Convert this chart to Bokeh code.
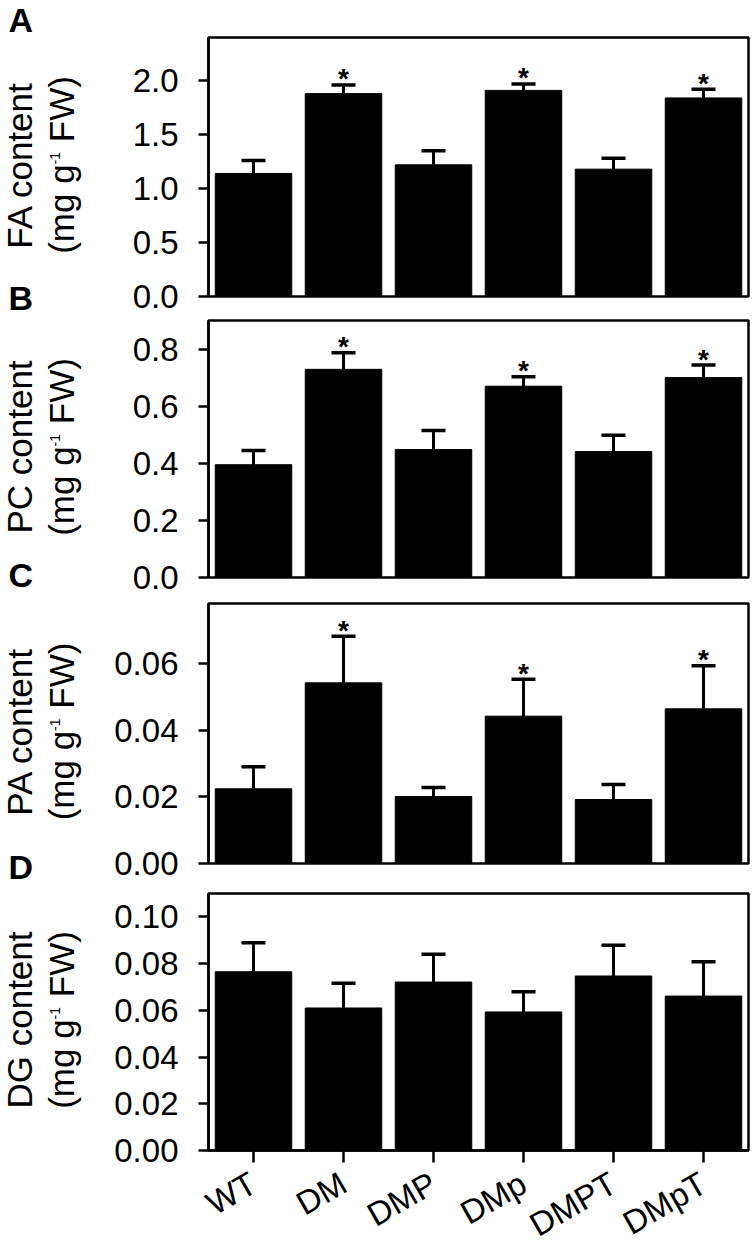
import math
from bokeh.plotting import figure
from bokeh.models import (ColumnDataSource, FactorRange, Range1d, FixedTicker,
                          PrintfTickFormatter, Whisker, TeeHead)
from bokeh.layouts import column, row
from bokeh.embed import file_html
from bokeh.resources import INLINE
from bokeh.core.properties import value

# ---------------- data ----------------
genotypes = ["WT", "DM", "DMP", "DMp", "DMPT", "DMpT"]

fa_mean = [1.14, 1.88, 1.22, 1.91, 1.18, 1.84]
fa_upper = [1.26, 1.96, 1.35, 1.97, 1.28, 1.92]
pc_mean = [0.395, 0.729, 0.448, 0.670, 0.441, 0.700]
pc_upper = [0.445, 0.787, 0.515, 0.703, 0.498, 0.744]
pa_mean = [0.0224, 0.0542, 0.0201, 0.0442, 0.0192, 0.0464]
pa_upper = [0.0290, 0.0682, 0.0228, 0.0553, 0.0237, 0.0593]
dg_mean = [0.0765, 0.0610, 0.0721, 0.0593, 0.0747, 0.0661]
dg_upper = [0.0889, 0.0716, 0.0840, 0.0679, 0.0878, 0.0808]

significant = [["DM", "DMp", "DMpT"], ["DM", "DMp", "DMpT"], ["DM", "DMp", "DMpT"], []]

panel_letters = ["A", "B", "C", "D"]
lipids = ["FA", "PC", "PA", "DG"]
unit_parts = ["(mg g", "-1", "FW)"]
y_max = [2.4, 0.9, 0.078, 0.11]
y_ticks = [[0, 0.5, 1.0, 1.5, 2.0],
           [0, 0.2, 0.4, 0.6, 0.8],
           [0, 0.02, 0.04, 0.06],
           [0, 0.02, 0.04, 0.06, 0.08, 0.10]]
tick_fmt = ["%.1f", "%.1f", "%.2f", "%.2f"]

means = [fa_mean, pc_mean, pa_mean, dg_mean]
uppers = [fa_upper, pc_upper, pa_upper, dg_upper]

# ---------------- layout (page pixels) ----------------
FONT = "Liberation Sans"
LABEL_W = 108
frame_left, frame_right = 208, 748
frame_top = [37, 320, 603, 893]
frame_bottom = [296, 577, 863, 1150]
fig_top = [0, 318, 598, 888]
fig_bottom = [318, 598, 888, 1240]
fw = frame_right - frame_left

figs = []
for i in range(4):
    fh = frame_bottom[i] - frame_top[i]
    p = figure(x_range=FactorRange(*genotypes, range_padding=0),
               y_range=Range1d(0, y_max[i]),
               frame_width=fw, frame_height=fh,
               min_border_left=frame_left - LABEL_W, min_border_right=6,
               min_border_top=frame_top[i] - fig_top[i],
               min_border_bottom=fig_bottom[i] - frame_bottom[i],
               output_backend="svg", toolbar_location=None,
               background_fill_color="white", border_fill_color="white")
    p.grid.visible = False
    p.outline_line_color = "black"
    p.outline_line_width = 2.5
    p.outline_line_alpha = 1.0

    src = ColumnDataSource(dict(g=genotypes, m=means[i], u=uppers[i]))
    p.vbar(x="g", top="m", width=0.85, bottom=0, source=src,
           fill_color="black", line_color="black")
    w = Whisker(base="g", lower="m", upper="u", source=src, dimension="height",
                line_color="black", line_width=3,
                upper_head=TeeHead(size=24, line_color="black", line_width=3.5),
                lower_head=None)
    p.add_layout(w)

    sig = significant[i]
    if sig:
        px = y_max[i] / fh
        star_y = [uppers[i][genotypes.index(g)] + 6 * px for g in sig]
        ssrc = ColumnDataSource(dict(g=sig, y=star_y, t=["*"] * len(sig)))
        p.text(x="g", y="y", text="t", source=ssrc, text_align="center",
               text_baseline="middle", text_font=value(FONT),
               text_font_size="28px", text_font_style="bold", text_color="black")

    ya = p.yaxis[0]
    ya.ticker = FixedTicker(ticks=y_ticks[i], minor_ticks=[])
    ya.formatter = PrintfTickFormatter(format=tick_fmt[i])
    ya.major_label_text_font = FONT
    ya.major_label_text_font_size = "33px"
    ya.major_label_text_color = "black"
    ya.major_tick_out = 10
    ya.major_tick_in = 0
    ya.major_tick_line_width = 2.5
    ya.major_tick_line_color = "black"
    ya.axis_line_width = 2.5
    ya.axis_line_color = "black"
    ya.major_label_standoff = 20

    xa = p.xaxis[0]
    if i < 3:
        xa.visible = False
    else:
        xa.major_label_orientation = math.pi / 6
        xa.major_label_text_font = FONT
        xa.major_label_text_font_size = "33px"
        xa.major_label_text_color = "black"
        xa.major_tick_out = 12
        xa.major_tick_in = 0
        xa.major_tick_line_width = 2.5
        xa.axis_line_width = 2.5
        xa.major_label_standoff = 18
    figs.append(p)

# ---------------- left strip: panel letters and y-axis titles ----------------
H = fig_bottom[-1]
lab = figure(width=LABEL_W, height=H, x_range=Range1d(0, LABEL_W),
             y_range=Range1d(-H, 0), min_border=0, x_axis_type=None,
             y_axis_type=None, output_backend="svg", toolbar_location=None,
             outline_line_color=None, background_fill_color="white",
             border_fill_color="white")
lab.grid.visible = False

letter_mid = [19, 297, 574, 866]
lsrc = ColumnDataSource(dict(x=[8] * 4, y=[-b for b in letter_mid], t=panel_letters))
lab.text(x="x", y="y", text="t", source=lsrc, text_align="left",
         text_baseline="middle", text_font=value(FONT), text_font_size="34px",
         text_font_style="bold", text_color="black")

cy = [(frame_top[i] + frame_bottom[i]) / 2 - 2 for i in range(4)]
t1src = ColumnDataSource(dict(x=[19] * 4, y=[-c for c in cy],
                              t=[f"{l} content" for l in lipids]))
lab.text(x="x", y="y", text="t", source=t1src, angle=math.pi / 2,
         text_align="center", text_baseline="middle", text_font=value(FONT),
         text_font_size="35px", text_color="black")

w1, w2, wsp, w3 = 2.556 * 35, 0.889 * 14, 0.278 * 35, 1.888 * 35
starts = [c + (w1 + w2 + wsp + w3) / 2 for c in cy]
big_x, big_y, big_t = [], [], []
sup_x, sup_y, sup_t = [], [], []
for s in starts:
    big_x += [61, 61]
    big_y += [-s, -(s - w1 - w2 - wsp)]
    big_t += [unit_parts[0], unit_parts[2]]
    sup_x.append(54)
    sup_y.append(-(s - w1))
    sup_t.append(unit_parts[1])
lab.text(x=big_x, y=big_y, text=big_t, angle=math.pi / 2, text_align="left",
         text_baseline="middle", text_font=value(FONT), text_font_size="35px",
         text_color="black")
lab.text(x=sup_x, y=sup_y, text=sup_t, angle=math.pi / 2, text_align="left",
         text_baseline="middle", text_font=value(FONT), text_font_size="14px",
         text_color="black")

layout = row(lab, column(*figs, spacing=0), spacing=0)
open("out.html", "w").write(file_html(layout, INLINE))
